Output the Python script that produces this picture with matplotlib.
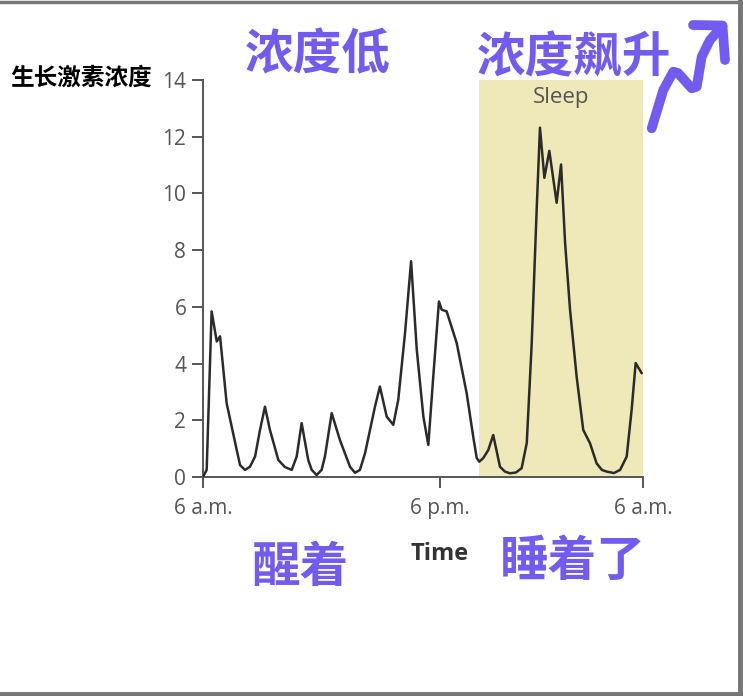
import matplotlib
matplotlib.use("Agg")
import matplotlib.pyplot as plt
from matplotlib.lines import Line2D

# ---- data (hours after 6 a.m., growth hormone concentration) ----
hours = [0.00, 0.20, 0.47, 0.75, 0.93, 1.29, 1.84, 2.02, 2.29, 2.56, 2.84, 3.11,
         3.38, 3.65, 4.11, 4.47, 4.84, 5.11, 5.38, 5.74, 5.93, 6.20, 6.47, 6.65,
         7.02, 7.47, 8.02, 8.29, 8.56, 8.84, 9.38, 9.65, 10.02, 10.38, 10.65,
         11.02, 11.35, 11.66, 12.02, 12.29, 12.56, 12.87, 13.02, 13.29, 13.84,
         14.38, 14.74, 14.93, 15.07, 15.29, 15.56, 15.83, 16.20, 16.47, 16.75,
         17.07, 17.38, 17.66, 17.93, 18.20, 18.38, 18.62, 18.89, 19.29, 19.53,
         19.75, 20.02, 20.38, 20.74, 21.11, 21.47, 21.76, 22.02, 22.42, 22.75,
         23.11, 23.38, 23.60, 23.93]
conc = [0.00, 0.25, 5.84, 4.78, 4.96, 2.60, 0.95, 0.42, 0.25, 0.36, 0.72, 1.66,
        2.48, 1.66, 0.60, 0.35, 0.25, 0.72, 1.90, 0.60, 0.25, 0.07, 0.25, 0.72,
        2.25, 1.30, 0.36, 0.15, 0.25, 0.84, 2.48, 3.19, 2.13, 1.84, 2.72,
        5.08, 7.61, 4.49, 2.13, 1.13, 3.54, 6.19, 5.90, 5.84, 4.72,
        2.96, 1.42, 0.67, 0.54, 0.67, 0.95, 1.48, 0.36, 0.19, 0.13,
        0.16, 0.31, 1.20, 4.72, 9.43, 12.32, 10.55, 11.50, 9.67, 11.02,
        8.26, 5.90, 3.54, 1.66, 1.19, 0.48, 0.25, 0.19, 0.14, 0.25,
        0.72, 2.37, 4.02, 3.66]

tick_pos = [0, 12.93, 24]
tick_labels = ["6 a.m.", "6 p.m.", "6 a.m."]
y_ticks = [0, 2, 4, 6, 8, 10, 12, 14]
sleep_start, sleep_end = 15.05, 24

PURPLE = "#735BF1"
GRAY = "#555555"
CJK = ["Noto Sans CJK SC", "DejaVu Sans"]

fig = plt.figure(figsize=(7.43, 6.96), dpi=100)
ax = fig.add_axes([203/743, 1 - 477/696, 440/743, 397/696])

ax.axvspan(sleep_start, sleep_end, ymin=0, ymax=1, color="#EFE8B8", lw=0, zorder=0)
ax.plot(hours, conc, color="#2b2b2b", lw=1.8, solid_joinstyle="round",
        solid_capstyle="round", zorder=3)

ax.set_xlim(0, 24)
ax.set_ylim(0, 14)
ax.set_xticks(tick_pos)
ax.set_xticklabels(tick_labels)
ax.set_yticks(y_ticks)
for s in ("top", "right"):
    ax.spines[s].set_visible(False)
for s in ("left", "bottom"):
    ax.spines[s].set_color(GRAY)
    ax.spines[s].set_linewidth(1.4)
ax.tick_params(axis="both", direction="out", length=8, width=1.4, color=GRAY,
               labelcolor=GRAY, labelsize=15)
ax.tick_params(axis="y", pad=4)
ax.tick_params(axis="x", pad=7)
for lab in ax.get_xticklabels() + ax.get_yticklabels():
    lab.set_family("Open Sans")

ax.text((sleep_start + sleep_end) / 2, 13.4, "Sleep", ha="center", va="center",
        color=GRAY, fontsize=16, family="Open Sans")

# ---- annotations ----
fig.text(440/743, 1 - 554/696, "Time", ha="center", va="center", color="#333333",
         fontsize=17, fontweight="bold", family="Open Sans")
fig.text(10/743, 1 - 78/696, "生长激素浓度", ha="left", va="center", color="black",
         fontsize=17, fontweight="heavy", family=CJK)
fig.text(318/743, 1 - 55/696, "浓度低", ha="center", va="center", color=PURPLE,
         fontsize=35, fontweight="heavy", family=CJK)
fig.text(574/743, 1 - 58/696, "浓度飙升", ha="center", va="center", color=PURPLE,
         fontsize=35, fontweight="heavy", family=CJK)
fig.text(300/743, 1 - 567/696, "醒着", ha="center", va="center", color=PURPLE,
         fontsize=35, fontweight="heavy", family=CJK)
fig.text(573/743, 1 - 561/696, "睡着了", ha="center", va="center", color=PURPLE,
         fontsize=35, fontweight="heavy", family=CJK)

# hand-drawn style arrow (decoration, figure pixel coords)
arrow_x = [651.7, 663.3, 673.3, 678, 691.7, 696.7, 701.7, 710, 722.5]
arrow_y = [128.3, 90, 71.7, 73, 88.3, 86.7, 56.7, 40, 26]
head_x = [693, 722.5, 725]
head_y = [25, 25.5, 60]
for xs, ys in ((arrow_x, arrow_y), (head_x, head_y)):
    fig.add_artist(Line2D([x/743 for x in xs], [1 - y/696 for y in ys],
                          transform=fig.transFigure, color=PURPLE, lw=7,
                          solid_capstyle="round", solid_joinstyle="round"))

# frame lines (screenshot border)
fig.add_artist(Line2D([0, 1], [1 - 1.5/696, 1 - 1.5/696], transform=fig.transFigure,
                      color="#777777", lw=2.5))
fig.add_artist(Line2D([1 - 3/743, 1 - 3/743], [0, 1], transform=fig.transFigure,
                      color="#777777", lw=3.5))
fig.add_artist(Line2D([0, 1], [2.5/696, 2.5/696], transform=fig.transFigure,
                      color="#777777", lw=3.5))

fig.savefig("out.png", dpi=100)
